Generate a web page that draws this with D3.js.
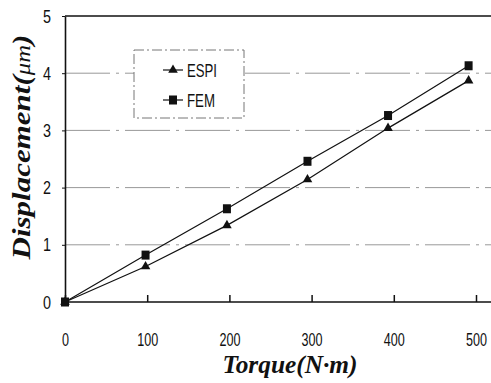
<!DOCTYPE html>
<html>
<head>
<meta charset="utf-8">
<script src="https://cdn.jsdelivr.net/npm/d3@7"></script>
<style>
  body { margin: 0; background: #fff; }
  svg { display: block; }
  .tick text { font-family: "Liberation Sans", Arial, sans-serif; font-size: 19px; fill: #111; }
  .ttl { font-family: "Liberation Serif", "DejaVu Serif", serif; font-weight: bold; font-style: italic; font-size: 25px; fill: #111; }
</style>
</head>
<body>
<svg id="drawing_region" width="491" height="383"></svg>
<script>
// data
const torque = [0, 98, 197, 295, 393, 491];
const espi = [0, 0.62, 1.34, 2.14, 3.04, 3.87];
const fem = [0, 0.82, 1.63, 2.46, 3.26, 4.13];
const xticks = [0, 100, 200, 300, 400, 500];
const yticks = [0, 1, 2, 3, 4, 5];

const svg = d3.select('#drawing_region');
const margin = {top: 16, left: 65, bottom: 302};

const x = d3.scaleLinear().domain([0, 500]).range([margin.left, 476]);
const y = d3.scaleLinear().domain([0, 5]).range([margin.bottom, margin.top]);

// squeeze the narrow tick font
function narrow(sel, w) {
    sel.attr('textLength', d => String(d).length * w).attr('lengthAdjust', 'spacingAndGlyphs');
}

// grid (dash-dot, light)
svg.append('g').selectAll('line')
    .data(yticks.filter(d => d > 0 && d < 5))
    .enter().append('line')
    .attr('x1', x(0)).attr('x2', 491)
    .attr('y1', d => y(d)).attr('y2', d => y(d))
    .attr('stroke', '#999')
    .attr('stroke-width', 1)
    .attr('stroke-dasharray', '45,6,3,6');

// top border
svg.append('line')
    .attr('x1', x(0)).attr('x2', 491)
    .attr('y1', y(5)).attr('y2', y(5))
    .attr('stroke', '#111').attr('stroke-width', 1.6);

// x axis
const xAxis = svg.append('g')
    .attr('transform', `translate(0,${y(0)})`)
    .call(d3.axisBottom(x).tickValues(xticks).tickSizeInner(-7).tickSizeOuter(0).tickPadding(31));
xAxis.select('.domain').attr('d', `M${x(0)},0H491`).attr('stroke', '#111').attr('stroke-width', 1.6);
xAxis.selectAll('.tick line').attr('stroke', '#111').attr('stroke-width', 1.5);
xAxis.selectAll('.tick text').call(narrow, 7);

// y axis
const yAxis = svg.append('g')
    .attr('transform', `translate(${x(0)},0)`)
    .call(d3.axisLeft(y).tickValues(yticks).tickFormat(d3.format('d')).tickSizeInner(3).tickSizeOuter(0).tickPadding(11));
yAxis.select('.domain').attr('stroke', '#111').attr('stroke-width', 1.6);
yAxis.selectAll('.tick line').attr('stroke', '#111');
yAxis.selectAll('.tick text').call(narrow, 8);

// lines
const line = d3.line().x((d, i) => x(torque[i])).y(d => y(d));
[espi, fem].forEach(s => {
    svg.append('path')
        .datum(s)
        .attr('d', line)
        .attr('fill', 'none')
        .attr('stroke', '#111')
        .attr('stroke-width', 1.2);
});

// markers
const tri = d3.symbol().type(d3.symbolTriangle).size(40);
svg.append('g').selectAll('path')
    .data(espi)
    .enter().append('path')
    .attr('d', tri)
    .attr('transform', (d, i) => `translate(${x(torque[i])},${y(d)})`)
    .attr('fill', '#111');
svg.append('g').selectAll('rect')
    .data(fem)
    .enter().append('rect')
    .attr('x', (d, i) => x(torque[i]) - 4)
    .attr('y', d => y(d) - 4.5)
    .attr('width', 8).attr('height', 9)
    .attr('fill', '#111');

// legend
const lg = svg.append('g');
lg.append('rect')
    .attr('x', 134).attr('y', 50).attr('width', 110).attr('height', 68)
    .attr('fill', '#fff')
    .attr('stroke', '#777').attr('stroke-width', 1)
    .attr('stroke-dasharray', '10,3,2,3');
const legendItems = [{name: 'ESPI', yy: 70, w: 30}, {name: 'FEM', yy: 100, w: 28}];
legendItems.forEach((it, i) => {
    lg.append('line').attr('x1', 163).attr('x2', 183).attr('y1', it.yy).attr('y2', it.yy)
        .attr('stroke', '#111').attr('stroke-width', 1.2);
    if (i === 0) {
        lg.append('path').attr('d', tri).attr('transform', `translate(173,${it.yy})`).attr('fill', '#111');
    } else {
        lg.append('rect').attr('x', 169).attr('y', it.yy - 4.5).attr('width', 8).attr('height', 9).attr('fill', '#111');
    }
    lg.append('text').attr('x', 187).attr('y', it.yy + 7)
        .attr('font-family', '"Liberation Sans", Arial, sans-serif')
        .attr('font-size', 19).attr('fill', '#111')
        .attr('textLength', it.w).attr('lengthAdjust', 'spacingAndGlyphs')
        .text(it.name);
});

// axis titles
svg.append('text').attr('class', 'ttl')
    .attr('x', 290).attr('y', 373)
    .attr('text-anchor', 'middle')
    .attr('textLength', 135).attr('lengthAdjust', 'spacingAndGlyphs')
    .text('Torque(N·m)');
const yt = svg.append('text').attr('class', 'ttl')
    .attr('transform', 'translate(30,147) rotate(-90) scale(1.24,1)')
    .attr('text-anchor', 'middle');
yt.append('tspan').text('Displacement(');
yt.append('tspan').attr('font-weight', 'normal').attr('font-size', 20).text('μm');
yt.append('tspan').text(')');
</script>
</body>
</html>
